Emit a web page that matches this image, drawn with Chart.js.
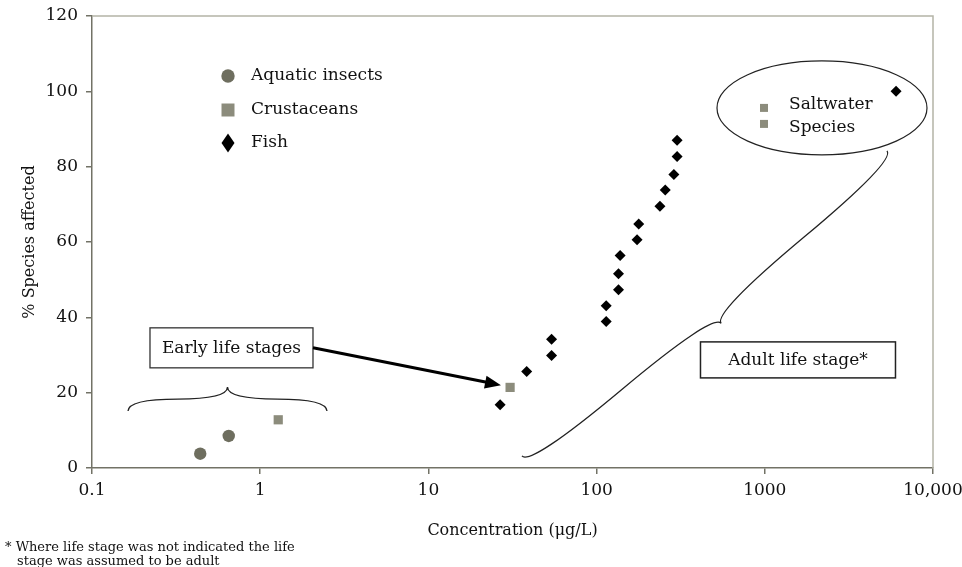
<!DOCTYPE html>
<html>
<head>
<meta charset="utf-8">
<script src="https://cdn.jsdelivr.net/npm/chart.js@4.4.1/dist/chart.umd.min.js"></script>
<style>
    html, body { margin: 0; padding: 0; background: #fff; }
</style>
</head>
<body>
<canvas id="species-chart" width="962" height="567"></canvas>
<script>
// Data
const xTicks = [0.1, 1, 10, 100, 1000, 10000];
const yTicks = [0, 20, 40, 60, 80, 100, 120];

const insectConc = [0.44, 0.65];
const insectPct = [3.8, 8.5];

const crustConc = [1.28, 30.6];
const crustPct = [12.8, 21.4];

const fishConc = [26.7, 38.4, 54, 54, 114, 114, 135, 135, 138, 174, 178, 238, 256, 288, 301, 301, 6030];
const fishPct = [16.8, 25.6, 29.9, 34.2, 38.9, 43.1, 47.3, 51.6, 56.4, 60.6, 64.8, 69.5, 73.8, 77.9, 82.7, 87.0, 100];

const legendLabels = ['Aquatic insects', 'Crustaceans', 'Fish'];

const SERIF = '"DejaVu Serif", "Liberation Serif", serif';
const AXIS_DARK = '#727266';
const AXIS_LIGHT = '#b4b4a7';
const INSECT_COLOR = '#6e6e5f';
const CRUST_COLOR = '#8c8c7c';
const FISH_COLOR = '#000000';

const toPoints = (xs, ys) => xs.map((v, i) => ({ x: v, y: ys[i] }));

// curly brace between two points, tip pushed w px to one side
function drawBrace(ctx, x1, y1, x2, y2, w, q) {
    let dx = x1 - x2, dy = y1 - y2;
    const len = Math.hypot(dx, dy);
    dx /= len; dy /= len;
    const qx1 = x1 + q * w * dy, qy1 = y1 - q * w * dx;
    const qx2 = x1 - 0.25 * len * dx + (1 - q) * w * dy, qy2 = y1 - 0.25 * len * dy - (1 - q) * w * dx;
    const tx = x1 - 0.5 * len * dx + w * dy, ty = y1 - 0.5 * len * dy - w * dx;
    const qx3 = x2 + q * w * dy, qy3 = y2 - q * w * dx;
    const qx4 = x1 - 0.75 * len * dx + (1 - q) * w * dy, qy4 = y1 - 0.75 * len * dy - (1 - q) * w * dx;
    ctx.beginPath();
    ctx.moveTo(x1, y1);
    ctx.quadraticCurveTo(qx1, qy1, qx2, qy2);
    ctx.quadraticCurveTo(2 * qx2 - qx1, 2 * qy2 - qy1, tx, ty);
    ctx.moveTo(x2, y2);
    ctx.quadraticCurveTo(qx3, qy3, qx4, qy4);
    ctx.quadraticCurveTo(2 * qx4 - qx3, 2 * qy4 - qy3, tx, ty);
    ctx.stroke();
}

function drawMarker(ctx, kind, cx, cy) {
    ctx.beginPath();
    if (kind === 0) {
        ctx.fillStyle = INSECT_COLOR;
        ctx.arc(cx, cy, 6.7, 0, Math.PI * 2);
    } else if (kind === 1) {
        ctx.fillStyle = CRUST_COLOR;
        ctx.rect(cx - 6.5, cy - 6.5, 13, 13);
    } else {
        ctx.fillStyle = FISH_COLOR;
        ctx.moveTo(cx, cy - 9.5);
        ctx.lineTo(cx + 6.5, cy);
        ctx.lineTo(cx, cy + 9.5);
        ctx.lineTo(cx - 6.5, cy);
        ctx.closePath();
    }
    ctx.fill();
}

const annotationPlugin = {
    id: 'annotations',
    beforeDatasetsDraw(chart) {
        const { ctx, chartArea, scales: { x, y } } = chart;
        const at = (xv, yv) => [x.getPixelForValue(xv), y.getPixelForValue(yv)];
        ctx.save();

        // frame: top and right edges
        ctx.strokeStyle = AXIS_LIGHT;
        ctx.lineWidth = 1.5;
        ctx.beginPath();
        ctx.moveTo(chartArea.left, chartArea.top);
        ctx.lineTo(chartArea.right, chartArea.top);
        ctx.lineTo(chartArea.right, chartArea.bottom);
        ctx.stroke();

        ctx.font = '17px ' + SERIF;
        ctx.textBaseline = 'middle';
        ctx.fillStyle = '#111';

        // Early life stages box
        const [ebx, eby] = at(0.675, 31.9);
        ctx.strokeStyle = '#333';
        ctx.lineWidth = 1.3;
        ctx.strokeRect(ebx - 81.5, eby - 20, 163, 40);
        ctx.textAlign = 'center';
        ctx.fillText('Early life stages', ebx, eby + 1);

        // arrow to the first crustacean point
        const [ax0, ay0] = [ebx + 81.5, eby];
        const [ax1, ay1] = at(27.0, 22.0);
        const ang = Math.atan2(ay1 - ay0, ax1 - ax0);
        ctx.strokeStyle = '#000';
        ctx.lineWidth = 3;
        ctx.beginPath();
        ctx.moveTo(ax0, ay0);
        ctx.lineTo(ax1 - 12 * Math.cos(ang), ay1 - 12 * Math.sin(ang));
        ctx.stroke();
        ctx.fillStyle = '#000';
        ctx.beginPath();
        ctx.moveTo(ax1, ay1);
        ctx.lineTo(ax1 - 16 * Math.cos(ang) + 6.5 * Math.sin(ang), ay1 - 16 * Math.sin(ang) - 6.5 * Math.cos(ang));
        ctx.lineTo(ax1 - 16 * Math.cos(ang) - 6.5 * Math.sin(ang), ay1 - 16 * Math.sin(ang) + 6.5 * Math.cos(ang));
        ctx.closePath();
        ctx.fill();

        // brace over the early points
        ctx.strokeStyle = '#222';
        ctx.lineWidth = 1.3;
        const [b1x, b1y] = at(0.1637, 15.1);
        const [b2x, b2y] = at(2.495, 15.1);
        drawBrace(ctx, b1x, b1y, b2x, b2y, -24, 0.5);

        // long brace along the adult points
        const [c1x, c1y] = at(36.0, 3.2);
        const [c2x, c2y] = at(5327, 84.2);
        drawBrace(ctx, c1x, c1y, c2x, c2y, 26, 0.5);

        // Adult life stage box
        const [abx, aby] = at(1575, 28.7);
        ctx.lineWidth = 1.5;
        ctx.strokeStyle = '#222';
        ctx.strokeRect(abx - 97.5, aby - 18, 195, 36);
        ctx.fillStyle = '#111';
        ctx.fillText('Adult life stage*', abx, aby + 1);

        // Saltwater species ellipse
        const [ex, ey] = at(2188, 95.6);
        ctx.lineWidth = 1.2;
        ctx.beginPath();
        ctx.ellipse(ex, ey, 105, 47, 0, 0, Math.PI * 2);
        ctx.stroke();
        ctx.fillStyle = CRUST_COLOR;
        ctx.fillRect(ex - 62, ey - 4, 8, 8);
        ctx.fillRect(ex - 62, ey + 12, 8, 8);
        ctx.fillStyle = '#111';
        ctx.textAlign = 'left';
        ctx.fillText('Saltwater', ex - 33, ey - 3);
        ctx.fillText('Species', ex - 33, ey + 20);

        ctx.restore();
    },
    afterDraw(chart) {
        const { ctx, chartArea } = chart;
        ctx.save();
        // legend inside the plot
        ctx.font = '17px ' + SERIF;
        ctx.textBaseline = 'middle';
        ctx.textAlign = 'left';
        const rowY = [60, 94, 127];
        legendLabels.forEach((label, i) => {
            const cy = chartArea.top + rowY[i];
            drawMarker(ctx, i, chartArea.left + 136, cy);
            ctx.fillStyle = '#111';
            ctx.fillText(label, chartArea.left + 159, cy);
        });

        // footnote
        ctx.font = '13px ' + SERIF;
        ctx.fillStyle = '#111';
        ctx.fillText('* Where life stage was not indicated the life', 5, 548);
        ctx.fillText('stage was assumed to be adult', 17, 562);
        ctx.restore();
    }
};

const ctx = document.getElementById('species-chart').getContext('2d');
new Chart(ctx, {
    type: 'scatter',
    data: {
        datasets: [
            {
                label: legendLabels[0],
                data: toPoints(insectConc, insectPct),
                pointStyle: 'circle',
                pointRadius: 6.2,
                backgroundColor: INSECT_COLOR,
                borderWidth: 0
            },
            {
                label: legendLabels[1],
                data: toPoints(crustConc, crustPct),
                pointStyle: 'rect',
                pointRadius: 6.5,
                backgroundColor: CRUST_COLOR,
                borderWidth: 0
            },
            {
                label: legendLabels[2],
                data: toPoints(fishConc, fishPct),
                pointStyle: 'rectRot',
                pointRadius: 5.5,
                backgroundColor: FISH_COLOR,
                borderWidth: 0
            }
        ]
    },
    options: {
        responsive: false,
        animation: false,
        layout: { padding: { left: 0, right: 29, top: 16, bottom: 0 } },
        plugins: {
            legend: { display: false },
            tooltip: { enabled: false }
        },
        scales: {
            x: {
                type: 'logarithmic',
                min: 0.1,
                max: 10000,
                afterBuildTicks: scale => { scale.ticks = xTicks.map(v => ({ value: v })); },
                afterFit: scale => {
                    scale.height = 99;
                    scale.paddingLeft = 0;
                    scale.paddingRight = 0;
                },
                grid: { drawOnChartArea: false, drawTicks: true, tickLength: 6, color: AXIS_DARK, lineWidth: 1.5 },
                border: { display: true, color: AXIS_DARK, width: 1.5 },
                ticks: {
                    padding: 6,
                    color: '#111',
                    font: { family: SERIF, size: 17 },
                    maxRotation: 0,
                    autoSkip: false,
                    callback: v => (v >= 10000 ? v.toLocaleString('en-US') : String(v))
                },
                title: {
                    display: true,
                    text: 'Concentration (μg/L)',
                    color: '#111',
                    font: { family: SERIF, size: 16 },
                    padding: { top: 27, bottom: 27 }
                }
            },
            y: {
                min: 0,
                max: 120,
                afterBuildTicks: scale => { scale.ticks = yTicks.map(v => ({ value: v })); },
                afterFit: scale => {
                    scale.width = 92;
                    scale.paddingTop = 0;
                    scale.paddingBottom = 0;
                },
                grid: { drawOnChartArea: false, drawTicks: true, tickLength: 6, color: AXIS_DARK, lineWidth: 1.5 },
                border: { display: true, color: AXIS_DARK, width: 1.5 },
                ticks: {
                    padding: 8,
                    color: '#111',
                    font: { family: SERIF, size: 17 }
                },
                title: {
                    display: true,
                    text: '% Species affected',
                    color: '#111',
                    font: { family: SERIF, size: 16 },
                    padding: { top: 20, bottom: 20 }
                }
            }
        }
    },
    plugins: [annotationPlugin]
});
</script>
</body>
</html>
